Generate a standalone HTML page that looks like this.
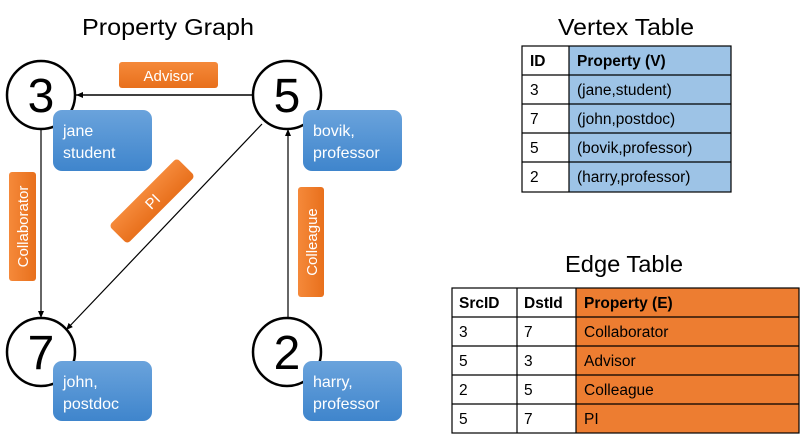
<!DOCTYPE html>
<html><head><meta charset="utf-8"><style>
html,body{margin:0;padding:0;background:#fff;}
svg{display:block;font-family:"Liberation Sans",sans-serif;}
</style></head><body>
<svg width="800" height="440" viewBox="0 0 800 440" xmlns="http://www.w3.org/2000/svg">
<defs>
<linearGradient id="bl" x1="0" y1="0" x2="0" y2="1"><stop offset="0" stop-color="#6aa3dc"/><stop offset="1" stop-color="#3f85cc"/></linearGradient>
<linearGradient id="or" x1="0" y1="0" x2="0" y2="1"><stop offset="0" stop-color="#f5893a"/><stop offset="1" stop-color="#e8701c"/></linearGradient>
<linearGradient id="orh" x1="0" y1="0" x2="1" y2="0"><stop offset="0" stop-color="#f5893a"/><stop offset="1" stop-color="#e8701c"/></linearGradient>
<marker id="ar" markerWidth="8" markerHeight="8" refX="7" refY="4" orient="auto" markerUnits="userSpaceOnUse"><path d="M0,1 L7,4 L0,7 z" fill="#000"/></marker>
</defs>
<text x="82" y="35" font-size="23" textLength="172" lengthAdjust="spacingAndGlyphs">Property Graph</text>
<text x="558" y="35" font-size="23" textLength="136" lengthAdjust="spacingAndGlyphs">Vertex Table</text>
<text x="565" y="272" font-size="23" textLength="118" lengthAdjust="spacingAndGlyphs">Edge Table</text>

<line x1="253" y1="95" x2="76" y2="95" stroke="#000" stroke-width="1.5" marker-end="url(#ar)"/>
<line x1="41" y1="129" x2="41" y2="318" stroke="#000" stroke-width="1.2" marker-end="url(#ar)"/>
<line x1="288" y1="318" x2="288" y2="129" stroke="#000" stroke-width="1.2" marker-end="url(#ar)"/>
<line x1="262" y1="124" x2="66" y2="330" stroke="#000" stroke-width="1.2" marker-end="url(#ar)"/>

<g fill="#fff" stroke="#000" stroke-width="2.5">
<circle cx="41" cy="95" r="34"/><circle cx="287" cy="95" r="34"/>
<circle cx="41" cy="352" r="34"/><circle cx="287" cy="352" r="34"/>
</g>
<g font-size="48" text-anchor="middle">
<text x="41" y="112">3</text><text x="287" y="112">5</text>
<text x="41" y="369">7</text><text x="287" y="369">2</text>
</g>

<g fill="url(#bl)">
<rect x="53" y="110" width="99" height="61" rx="9"/>
<rect x="303" y="110" width="99" height="61" rx="9"/>
<rect x="53" y="361" width="99" height="60" rx="9"/>
<rect x="303" y="361" width="99" height="60" rx="9"/>
</g>
<g fill="#fff" font-size="16">
<text x="63" y="136">jane</text><text x="63" y="158">student</text>
<text x="313" y="136">bovik,</text><text x="313" y="158">professor</text>
<text x="63" y="387">john,</text><text x="63" y="409">postdoc</text>
<text x="313" y="387">harry,</text><text x="313" y="409">professor</text>
</g>

<rect x="119" y="62" width="99" height="26" rx="3" fill="url(#or)"/>
<text x="168.5" y="81" fill="#fff" font-size="15" text-anchor="middle">Advisor</text>
<rect x="9" y="172" width="27" height="109" rx="3" fill="url(#orh)"/>
<text transform="translate(28,226.5) rotate(-90)" fill="#fff" font-size="15" text-anchor="middle">Collaborator</text>
<rect x="298" y="187" width="26" height="110" rx="3" fill="url(#orh)"/>
<text transform="translate(317,242) rotate(-90)" fill="#fff" font-size="15" text-anchor="middle">Colleague</text>
<g transform="translate(152,201) rotate(-45)">
<rect x="-48" y="-13" width="96" height="26" rx="4" fill="url(#or)"/>
<text x="0" y="6" fill="#fff" font-size="15" text-anchor="middle">PI</text>
</g>

<rect x="569" y="46" width="162" height="146" fill="#9dc3e6"/>
<g stroke="#000" stroke-width="1.2" fill="none">
<rect x="522" y="46" width="209" height="146"/>
<line x1="569" y1="46" x2="569" y2="192"/>
<line x1="522" y1="75" x2="731" y2="75"/>
<line x1="522" y1="104" x2="731" y2="104"/>
<line x1="522" y1="133" x2="731" y2="133"/>
<line x1="522" y1="162" x2="731" y2="162"/>
</g>
<g font-size="15.5">
<text x="530" y="66" font-weight="bold">ID</text><text x="577" y="66" font-weight="bold">Property (V)</text>
<text x="530" y="95">3</text><text x="577" y="95">(jane,student)</text>
<text x="530" y="124">7</text><text x="577" y="124">(john,postdoc)</text>
<text x="530" y="153">5</text><text x="577" y="153">(bovik,professor)</text>
<text x="530" y="182">2</text><text x="577" y="182">(harry,professor)</text>
</g>

<rect x="576" y="288" width="223" height="145" fill="#ed7d31"/>
<g stroke="#000" stroke-width="1.2" fill="none">
<rect x="452" y="288" width="347" height="145"/>
<line x1="517" y1="288" x2="517" y2="433"/>
<line x1="576" y1="288" x2="576" y2="433"/>
<line x1="452" y1="317" x2="799" y2="317"/>
<line x1="452" y1="346" x2="799" y2="346"/>
<line x1="452" y1="375" x2="799" y2="375"/>
<line x1="452" y1="404" x2="799" y2="404"/>
</g>
<g font-size="15.5">
<text x="459" y="308" font-weight="bold">SrcID</text><text x="524" y="308" font-weight="bold">DstId</text><text x="584" y="308" font-weight="bold">Property (E)</text>
<text x="459" y="337">3</text><text x="524" y="337">7</text><text x="584" y="337">Collaborator</text>
<text x="459" y="366">5</text><text x="524" y="366">3</text><text x="584" y="366">Advisor</text>
<text x="459" y="395">2</text><text x="524" y="395">5</text><text x="584" y="395">Colleague</text>
<text x="459" y="424">5</text><text x="524" y="424">7</text><text x="584" y="424">PI</text>
</g>
</svg>
</body></html>
